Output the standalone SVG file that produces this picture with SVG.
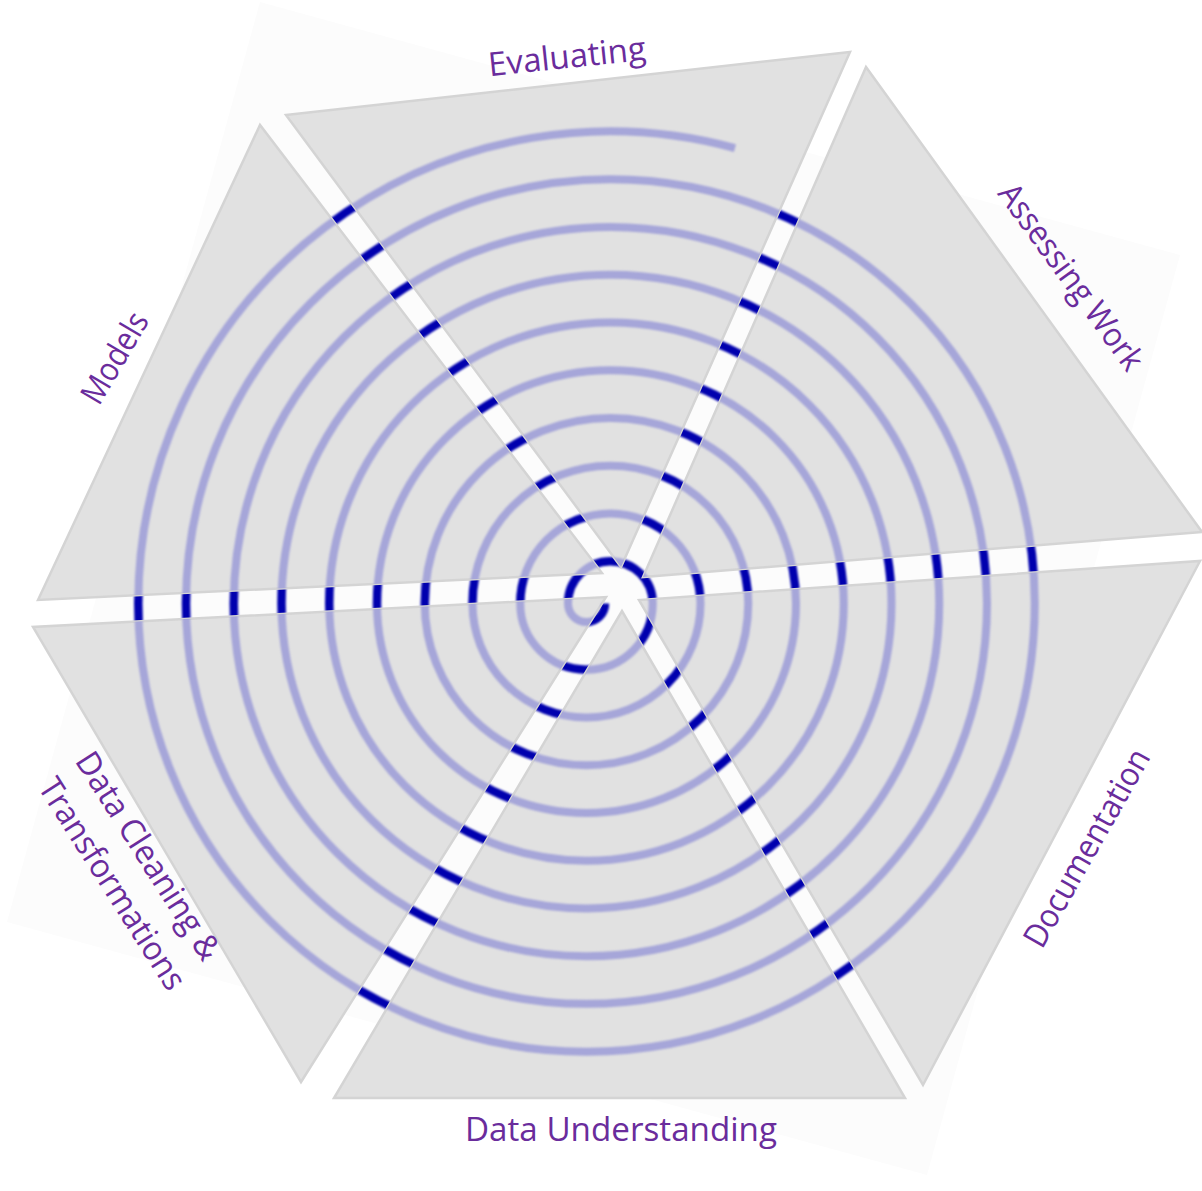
<svg xmlns="http://www.w3.org/2000/svg" xmlns:xlink="http://www.w3.org/1999/xlink" width="1202" height="1191" viewBox="0 0 1202 1191">
  <style>
    .seg { fill: #e1e1e1; stroke: #d4d4d4; stroke-width: 2.5; stroke-linejoin: miter; }
    .lbl { font-family: "Open Sans", "Noto Sans", sans-serif; font-size: 33px; fill: #6a2c9c; text-anchor: middle; }
    .sp { fill: none; stroke-linecap: butt; }
    .dark { stroke: #0202ae; stroke-width: 8.5; }
    .light { stroke: #a6a6d9; stroke-width: 8; }
  </style>
  <defs>
    <filter id="soft" x="-5%" y="-5%" width="110%" height="110%">
      <feGaussianBlur stdDeviation="0.8"/>
    </filter>
    <path id="spiral" d="M605,603.5 A18.5,18.5 0 0 1 568,603.5 A42.375,42.375 0 0 1 652.75,603.5 A66.25,66.25 0 0 1 520.25,603.5 A90.125,90.125 0 0 1 700.5,603.5 A114,114 0 0 1 472.5,603.5 A137.875,137.875 0 0 1 748.25,603.5 A161.75,161.75 0 0 1 424.75,603.5 A185.625,185.625 0 0 1 796,603.5 A209.5,209.5 0 0 1 377,603.5 A233.375,233.375 0 0 1 843.75,603.5 A257.25,257.25 0 0 1 329.25,603.5 A281.125,281.125 0 0 1 891.5,603.5 A305,305 0 0 1 281.5,603.5 A328.875,328.875 0 0 1 939.25,603.5 A352.75,352.75 0 0 1 233.75,603.5 A376.625,376.625 0 0 1 987,603.5 A400.5,400.5 0 0 1 186,603.5 A424.375,424.375 0 0 1 1034.75,603.5 A448.25,448.25 0 0 1 138.25,603.5 A472.125,472.125 0 0 1 735,148.1"/>
    <clipPath id="segclip">
      <polygon points="286,115 850,52 621,567"/>
      <polygon points="866,67 1202,532 643,577"/>
      <polygon points="1200,561 923,1085 639,600"/>
      <polygon points="905,1098 334,1098 622,611"/>
      <polygon points="301,1082 33,627 606,597"/>
      <polygon points="38,600 260,125 602,573"/>
    </clipPath>
  </defs>

  <rect x="0" y="0" width="1202" height="1191" fill="#ffffff"/>
  <polygon id="backdrop" points="260,2 1180,255 927,1175 7,922" fill="#fcfcfc"/>

  <g id="connectors">
    <use xlink:href="#spiral" class="sp dark" filter="url(#soft)"/>
  </g>

  <g id="seg-evaluating">
    <polygon class="seg" points="286,115 850,52 621,567"/>
    <text class="lbl" transform="translate(567,57) rotate(-6)" x="0" y="11" textLength="158" lengthAdjust="spacingAndGlyphs">Evaluating</text>
  </g>
  <g id="seg-assessing-work">
    <polygon class="seg" points="866,67 1202,532 643,577"/>
    <text class="lbl" transform="translate(1071,277) rotate(54)" x="0" y="11" textLength="222" lengthAdjust="spacingAndGlyphs">Assessing Work</text>
  </g>
  <g id="seg-documentation">
    <polygon class="seg" points="1200,561 923,1085 639,600"/>
    <text class="lbl" transform="translate(1087,848) rotate(-60.5)" x="0" y="11" textLength="222" lengthAdjust="spacingAndGlyphs">Documentation</text>
  </g>
  <g id="seg-data-understanding">
    <polygon class="seg" points="905,1098 334,1098 622,611"/>
    <text class="lbl" transform="translate(621,1130)" x="0" y="11" textLength="312" lengthAdjust="spacingAndGlyphs">Data Understanding</text>
  </g>
  <g id="seg-data-cleaning">
    <polygon class="seg" points="301,1082 33,627 606,597"/>
    <text class="lbl" transform="translate(148,856) rotate(57.5)" x="0" y="11" textLength="240" lengthAdjust="spacingAndGlyphs">Data Cleaning &amp;</text>
    <text class="lbl" transform="translate(112,884) rotate(57.5)" x="0" y="11" textLength="244" lengthAdjust="spacingAndGlyphs">Transformations</text>
  </g>
  <g id="seg-models">
    <polygon class="seg" points="38,600 260,125 602,573"/>
    <text class="lbl" transform="translate(115,358) rotate(-59.5)" x="0" y="11" textLength="100" lengthAdjust="spacingAndGlyphs">Models</text>
  </g>

  <g id="spiral-light" clip-path="url(#segclip)">
    <use xlink:href="#spiral" class="sp light" filter="url(#soft)"/>
  </g>
</svg>
